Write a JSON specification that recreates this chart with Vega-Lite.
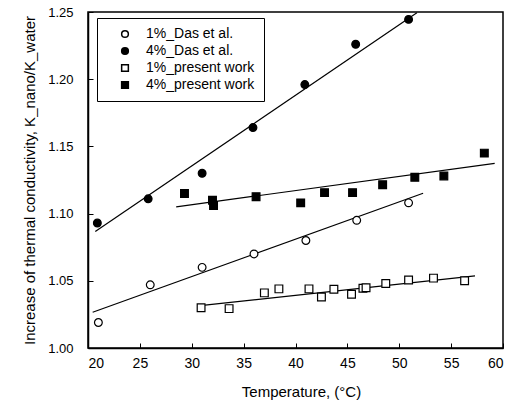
{
  "$schema": "https://vega.github.io/schema/vega-lite/v6.json",
  "width": 415,
  "height": 336,
  "autosize": {"type": "none"},
  "padding": {"left": 88, "top": 12, "right": 13, "bottom": 57},
  "background": "white",
  "config": {
    "font": "Liberation Sans",
    "view": {"stroke": "black", "strokeWidth": 1.5},
    "axis": {
      "grid": false,
      "domainColor": "black",
      "domainWidth": 1.5,
      "tickColor": "black",
      "tickSize": -5,
      "labelColor": "black",
      "titleColor": "black",
      "labelFont": "Liberation Sans",
      "titleFont": "Liberation Sans",
      "titleFontWeight": "normal"
    },
    "legend": {
      "title": null,
      "orient": "none",
      "legendX": 9,
      "legendY": 6,
      "padding": 9,
      "strokeColor": "black",
      "fillColor": "white",
      "labelFontSize": 14,
      "labelColor": "black",
      "labelFont": "Liberation Sans",
      "symbolSize": 45,
      "symbolStrokeWidth": 1.5,
      "symbolOffset": 12,
      "rowPadding": 3,
      "labelOffset": 14
    }
  },
  "datasets": {
    "points": [
      {"series": "1%_Das et al.", "T": 21.0, "k": 1.019},
      {"series": "1%_Das et al.", "T": 26.0, "k": 1.047},
      {"series": "1%_Das et al.", "T": 31.0, "k": 1.060},
      {"series": "1%_Das et al.", "T": 36.0, "k": 1.070},
      {"series": "1%_Das et al.", "T": 41.0, "k": 1.080},
      {"series": "1%_Das et al.", "T": 45.9, "k": 1.095},
      {"series": "1%_Das et al.", "T": 50.9, "k": 1.108},
      {"series": "4%_Das et al.", "T": 20.9, "k": 1.093},
      {"series": "4%_Das et al.", "T": 25.8, "k": 1.111},
      {"series": "4%_Das et al.", "T": 31.0, "k": 1.130},
      {"series": "4%_Das et al.", "T": 35.9, "k": 1.164},
      {"series": "4%_Das et al.", "T": 40.9, "k": 1.196},
      {"series": "4%_Das et al.", "T": 45.8, "k": 1.226},
      {"series": "4%_Das et al.", "T": 50.9, "k": 1.2445},
      {"series": "1%_present work", "T": 30.9, "k": 1.030},
      {"series": "1%_present work", "T": 33.6, "k": 1.0293},
      {"series": "1%_present work", "T": 37.0, "k": 1.041},
      {"series": "1%_present work", "T": 38.4, "k": 1.044},
      {"series": "1%_present work", "T": 41.3, "k": 1.044},
      {"series": "1%_present work", "T": 42.5, "k": 1.038},
      {"series": "1%_present work", "T": 43.7, "k": 1.0437},
      {"series": "1%_present work", "T": 45.4, "k": 1.040},
      {"series": "1%_present work", "T": 46.5, "k": 1.0445},
      {"series": "1%_present work", "T": 46.8, "k": 1.0448},
      {"series": "1%_present work", "T": 48.7, "k": 1.048},
      {"series": "1%_present work", "T": 50.9, "k": 1.0506},
      {"series": "1%_present work", "T": 53.3, "k": 1.052},
      {"series": "1%_present work", "T": 56.3, "k": 1.050},
      {"series": "4%_present work", "T": 29.3, "k": 1.115},
      {"series": "4%_present work", "T": 32.0, "k": 1.110},
      {"series": "4%_present work", "T": 32.1, "k": 1.106},
      {"series": "4%_present work", "T": 36.2, "k": 1.1126},
      {"series": "4%_present work", "T": 40.5, "k": 1.108},
      {"series": "4%_present work", "T": 42.8, "k": 1.1156},
      {"series": "4%_present work", "T": 45.5, "k": 1.1156},
      {"series": "4%_present work", "T": 48.4, "k": 1.1215},
      {"series": "4%_present work", "T": 51.5, "k": 1.127},
      {"series": "4%_present work", "T": 54.3, "k": 1.128},
      {"series": "4%_present work", "T": 58.2, "k": 1.145}
    ],
    "fits": [
      {"series": "1%_Das et al.", "T": 20.45, "k": 1.0266},
      {"series": "1%_Das et al.", "T": 52.3, "k": 1.1151},
      {"series": "4%_Das et al.", "T": 20.7, "k": 1.0866},
      {"series": "4%_Das et al.", "T": 51.7, "k": 1.2495},
      {"series": "1%_present work", "T": 30.6, "k": 1.0313},
      {"series": "1%_present work", "T": 57.3, "k": 1.0536},
      {"series": "4%_present work", "T": 28.5, "k": 1.105},
      {"series": "4%_present work", "T": 59.2, "k": 1.1374}
    ]
  },
  "encoding": {
    "x": {
      "field": "T", "type": "quantitative",
      "scale": {"domain": [20, 60], "nice": false, "zero": false},
      "axis": {
        "values": [20, 25, 30, 35, 40, 45, 50, 55, 60],
        "format": "d",
        "labelFontSize": 14,
        "labelPadding": 13,
        "title": "Temperature, (°C)",
        "titleFontSize": 15,
        "titleX": 213, "titleY": 43,
        "titleAlign": "center", "titleBaseline": "middle"
      }
    },
    "y": {
      "field": "k", "type": "quantitative",
      "scale": {"domain": [1.0, 1.25], "nice": false, "zero": false},
      "axis": {
        "values": [1.0, 1.05, 1.1, 1.15, 1.2, 1.25],
        "format": ".2f",
        "labelFontSize": 13,
        "labelPadding": 20,
        "title": "Increase of thermal conductivity, K_nano/K_water",
        "titleFontSize": 15,
        "titleX": -59, "titleY": 168,
        "titleAlign": "center", "titleBaseline": "middle", "titleAngle": -90
      }
    }
  },
  "layer": [
    {
      "data": {"name": "fits"},
      "mark": {"type": "line", "color": "black", "strokeWidth": 1.2},
      "encoding": {"detail": {"field": "series"}}
    },
    {
      "data": {"name": "points"},
      "mark": {"type": "point", "strokeWidth": 1.2, "opacity": 1, "size": 60},
      "encoding": {
        "shape": {
          "field": "series", "type": "nominal",
          "scale": {
            "domain": ["1%_Das et al.", "4%_Das et al.", "1%_present work", "4%_present work"],
            "range": ["circle", "circle", "square", "square"]
          }
        },
        "fill": {
          "field": "series", "type": "nominal",
          "scale": {
            "domain": ["1%_Das et al.", "4%_Das et al.", "1%_present work", "4%_present work"],
            "range": ["white", "black", "white", "black"]
          }
        },
        "stroke": {
          "field": "series", "type": "nominal",
          "scale": {
            "domain": ["1%_Das et al.", "4%_Das et al.", "1%_present work", "4%_present work"],
            "range": ["black", "black", "black", "black"]
          }
        }
      }
    }
  ]
}
